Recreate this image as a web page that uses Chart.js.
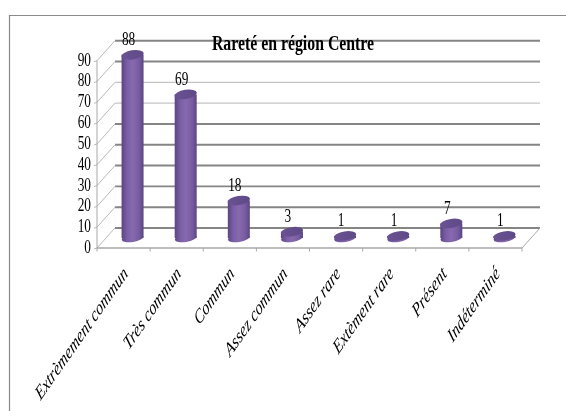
<!DOCTYPE html>
<html><head><meta charset="utf-8">
<style>html,body{margin:0;padding:0;background:#fff}canvas{display:block;filter:blur(0.35px)}</style>
<script src="https://cdn.jsdelivr.net/npm/chart.js@4/dist/chart.umd.min.js"></script>
</head><body><canvas id="c" width="566" height="411"></canvas>
<script>
const categories = ["Extrèmement commun","Très commun","Commun","Assez commun","Assez rare","Extèment rare","Présent","Indéterminé"];
const values = [88,69,18,3,1,1,7,1];
const titleText = "Rareté en région Centre";
const yMax = 90, yStep = 10;

const SERIF = '"Liberation Serif"';
const SX = 0.7;           // horizontal squeeze of the text
const DEPTH = {x:18, y:-20};   // depth of the back wall
const MID = {x:9, y:-10};      // bars stand halfway in the depth
const BAR_RX = 11, BAR_RY = 4.6, TILT = -0.16;
const GRID = '#858585', GRID_LIGHT = '#c4c4c4', AXIS = '#a8a8a8';

function squeezed(ctx, text, x, y, font, align, sx){
  ctx.save();
  ctx.translate(x,y); ctx.scale(sx||SX,1);
  ctx.font = font; ctx.fillStyle = '#000'; ctx.textAlign = align; ctx.textBaseline = 'middle';
  ctx.fillText(text,0,0);
  ctx.restore();
}
function bodyGradient(ctx, c){
  const g = ctx.createLinearGradient(c-BAR_RX,0,c+BAR_RX,0);
  g.addColorStop(0,'#5a4580'); g.addColorStop(0.25,'#7a5ea6');
  g.addColorStop(0.5,'#8769ae'); g.addColorStop(0.8,'#775ba2'); g.addColorStop(1,'#5a4580');
  return g;
}
const scene = {
  id:'scene',
  beforeDatasetsDraw(chart){
    const {ctx, scales:{x,y}} = chart;
    const L = x.left, R = x.right;
    ctx.save();
    // frame
    ctx.strokeStyle = '#8a8a8a'; ctx.lineWidth = 1.2;
    ctx.beginPath(); ctx.moveTo(9.5,411); ctx.lineTo(9.5,15.5); ctx.lineTo(566,15.5); ctx.stroke();
    // back wall and left wall
    y.ticks.forEach(t=>{
      const py = y.getPixelForValue(t.value);
      const light = t.value===60 || t.value===70;
      ctx.strokeStyle = light ? GRID_LIGHT : GRID;
      ctx.lineWidth = light ? 1.2 : 1.9;
      ctx.beginPath(); ctx.moveTo(L+DEPTH.x,py+DEPTH.y); ctx.lineTo(R+DEPTH.x,py+DEPTH.y); ctx.stroke();
      ctx.strokeStyle = '#b8b8b8'; ctx.lineWidth = 1;
      ctx.beginPath(); ctx.moveTo(L-3,py+1); ctx.lineTo(L,py); ctx.lineTo(L+DEPTH.x,py+DEPTH.y); ctx.stroke();
    });
    // front axis, floor edge
    const y0 = y.getPixelForValue(0);
    ctx.strokeStyle = AXIS; ctx.lineWidth = 1;
    ctx.beginPath(); ctx.moveTo(L,y.getPixelForValue(yMax)); ctx.lineTo(L,y0); ctx.stroke();
    ctx.beginPath(); ctx.moveTo(R,y0); ctx.lineTo(R+DEPTH.x,y0+DEPTH.y); ctx.stroke();
    ctx.lineWidth = 1.6;
    ctx.beginPath(); ctx.moveTo(L,y0); ctx.lineTo(R,y0); ctx.stroke();
    ctx.lineWidth = 1;
    const w = (R-L)/categories.length;
    for(let i=0;i<=categories.length;i++){
      ctx.beginPath(); ctx.moveTo(L+i*w,y0); ctx.lineTo(L+i*w,y0+3.5); ctx.stroke();
    }
    // bar shapes go in the middle of the depth
    chart.getDatasetMeta(0).data.forEach(el=>{
      ctx.fillStyle = bodyGradient(ctx, el.x+MID.x);
      ctx.beginPath();
      ctx.ellipse(el.x+MID.x, el.base+MID.y, BAR_RX, BAR_RY-0.6, TILT, 0, Math.PI*2);
      ctx.fill();
    });
    ctx.restore();
    ctx.save();
    ctx.translate(MID.x,MID.y);
  },
  afterDatasetsDraw(chart){
    const {ctx, scales:{x,y}} = chart;
    ctx.restore();
    ctx.save();
    const els = chart.getDatasetMeta(0).data;
    els.forEach((el,i)=>{
      const cx = el.x+MID.x, cy = el.y+MID.y;
      const g = ctx.createLinearGradient(cx-BAR_RX,0,cx+BAR_RX,0);
      g.addColorStop(0,'#6a5294'); g.addColorStop(1,'#5f4985');
      ctx.fillStyle = g;
      ctx.beginPath();
      ctx.ellipse(cx, cy, BAR_RX+0.3, BAR_RY, TILT, 0, Math.PI*2);
      ctx.fill();
      squeezed(ctx, String(values[i]), cx-4, cy-14.5, '19px '+SERIF, 'center');
    });
    // value axis labels
    y.ticks.forEach(t=>{
      squeezed(ctx, String(t.value), x.left-6, y.getPixelForValue(t.value), '19px '+SERIF, 'right');
    });
    // category labels, slanted
    ctx.fillStyle = '#000';
    ctx.textAlign = 'right'; ctx.textBaseline = 'middle';
    ctx.font = 'italic 20px '+SERIF;
    const c = Math.SQRT1_2;
    els.forEach((el,i)=>{
      ctx.save();
      ctx.transform(0.7*c, -c, 0.7*c, c, el.x+2.5, y.bottom+23);
      ctx.fillText(categories[i],0,0);
      ctx.restore();
    });
    // title
    squeezed(ctx, titleText, 293, 45, 'bold 20px '+SERIF, 'center', 0.79);
    ctx.restore();
  }
};
const noSize = s => { if(s.isHorizontal()) s.height = 0; else s.width = 0; };
new Chart(document.getElementById('c'),{
  type:'bar',
  data:{labels:categories,datasets:[{
    data:values,
    barPercentage:0.414, categoryPercentage:1,
    borderWidth:0,
    backgroundColor(ctx){
      const x = ctx.chart.scales.x;
      const px = (x && ctx.dataIndex!==undefined) ? x.getPixelForValue(ctx.dataIndex) : NaN;
      if(!Number.isFinite(px)) return '#7458a0';
      return bodyGradient(ctx.chart.ctx, px);
    }
  }]},
  plugins:[scene],
  options:{
    responsive:false, animation:false, devicePixelRatio:1,
    layout:{padding:{left:97,right:44,top:60.7,bottom:163}},
    plugins:{legend:{display:false},tooltip:{enabled:false},title:{display:false}},
    scales:{
      x:{afterFit:noSize,grid:{display:false},border:{display:false},ticks:{display:false}},
      y:{afterFit:noSize,min:0,max:yMax,grid:{display:false},border:{display:false},
         ticks:{display:false,stepSize:yStep}}
    }
  }
});
</script></body></html>
